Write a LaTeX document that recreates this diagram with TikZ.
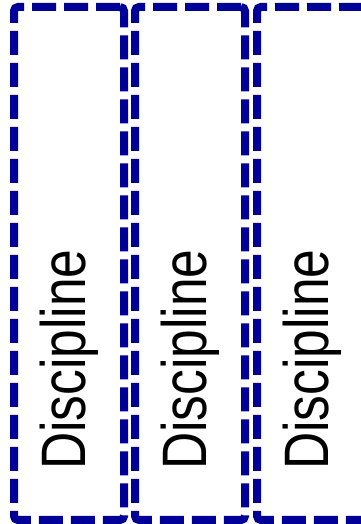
\documentclass[tikz,border=0pt]{standalone}
\usepackage{fontspec}
\setmainfont{Liberation Sans}
\definecolor{boxblue}{RGB}{0,0,153}
\begin{document}
\begin{tikzpicture}[x=1pt,y=1pt,
  lane/.style={draw=boxblue, line width=8pt, dash pattern=on 24pt off 8pt,
    rounded corners=4pt, inner sep=0pt, minimum width=110pt, minimum height=513pt},
  lanelabel/.style={rotate=90, font=\fontsize{62.8}{70}\selectfont, inner sep=0pt, anchor=base}]
\useasboundingbox (0,0) rectangle (360,524);
\node[lane] (d1) at (69,260.5) {};
\node[lane] (d2) at (190,260.5) {};
\node[lane] (d3) at (312,260.5) {};
\node[lanelabel] (t1) at (85,164.5) {\scalebox{0.82}[1]{Discipline}};
\node[lanelabel] (t2) at (206,164.5) {\scalebox{0.82}[1]{Discipline}};
\node[lanelabel] (t3) at (328,164.5) {\scalebox{0.82}[1]{Discipline}};
\end{tikzpicture}
\end{document}
